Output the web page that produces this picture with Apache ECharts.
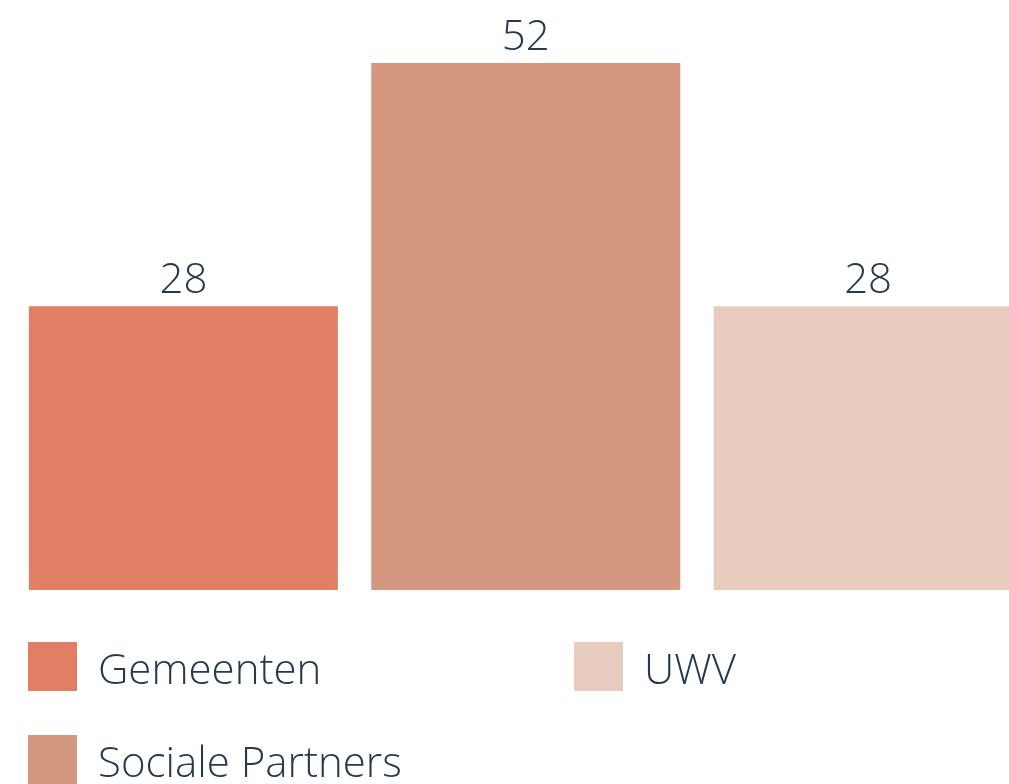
<!DOCTYPE html>
<html>
<head>
<meta charset="utf-8">
<script src="https://cdn.jsdelivr.net/npm/echarts@6/dist/echarts.min.js"></script>
<style>
  html, body { margin: 0; padding: 0; background: #fff; }
  #chart { width: 1009px; height: 784px; }
</style>
</head>
<body>
<div id="chart"></div>
<script>
// data
const seriesNames = ['Gemeenten', 'Sociale Partners', 'UWV'];
const seriesValues = [28, 52, 28];
const seriesColors = ['#E07F64', '#D49880', '#E8CBBF'];

const TEXT_COLOR = '#263a4f';
const FONT = '"Open Sans", "Noto Sans", sans-serif';

// legend slot for each series (two columns, column-major)
const legendLeft = [28, 28, 574];
const legendTop = [642, 735, 642];

const chart = echarts.init(document.getElementById('chart'));

const series = seriesNames.map((name, i) => ({
  name: name,
  type: 'bar',
  clip: false,
  barWidth: 309,
  barGap: '10.8%',
  itemStyle: { color: seriesColors[i] },
  label: {
    show: true,
    position: 'top',
    distance: 4,
    color: TEXT_COLOR,
    fontFamily: FONT,
    fontWeight: 300,
    fontSize: 42
  },
  emphasis: { disabled: true },
  data: [seriesValues[i]]
}));

// one legend per item so each sits in its own slot
const legends = seriesNames.map((name, i) => ({
  left: legendLeft[i],
  top: legendTop[i],
  padding: 0,
  itemWidth: 49,
  itemHeight: 49,
  icon: 'rect',
  data: [name],
  formatter: n => '{t|' + n + '}',
  textStyle: {
    color: TEXT_COLOR,
    fontFamily: FONT,
    fontWeight: 300,
    fontSize: 42,
    rich: {
      t: {
        color: TEXT_COLOR,
        fontFamily: FONT,
        fontWeight: 300,
        fontSize: 42,
        padding: [12, 0, 0, 16]
      }
    }
  }
}));

chart.setOption({
  animation: false,
  legend: legends,
  grid: {
    left: 42.5,
    top: 63,
    width: 994,
    height: 527
  },
  xAxis: {
    type: 'category',
    data: [''],
    show: false
  },
  yAxis: {
    type: 'value',
    min: 0,
    max: 52,
    show: false
  },
  series: series
});
</script>
</body>
</html>
